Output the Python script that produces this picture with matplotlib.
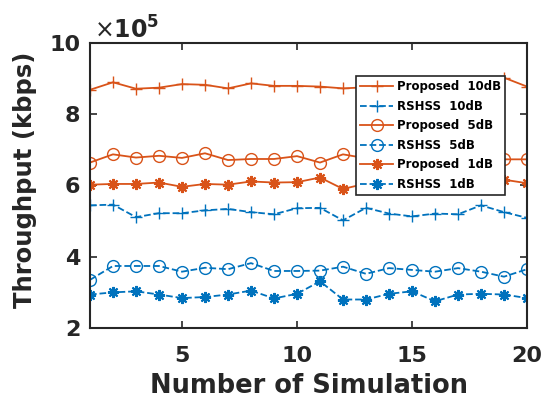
import numpy as np
import matplotlib.pyplot as plt

plt.rcParams['font.family'] = ['DejaVu Sans']
plt.rcParams['mathtext.fontset'] = 'dejavusans'

# throughput in units of 1e5 kbps, one value per simulation run
sim = np.arange(1, 21)
proposed_10db = [8.68, 8.89, 8.71, 8.74, 8.84, 8.82, 8.72, 8.86, 8.79, 8.79,
                 8.77, 8.72, 8.75, 8.80, 8.78, 8.82, 8.76, 8.80, 9.02, 8.77]
rshss_10db = [5.44, 5.46, 5.11, 5.22, 5.22, 5.30, 5.34, 5.25, 5.19, 5.36,
              5.37, 5.02, 5.37, 5.21, 5.13, 5.21, 5.19, 5.44, 5.25, 5.09]
proposed_5db = [6.64, 6.87, 6.78, 6.83, 6.77, 6.90, 6.71, 6.74, 6.74, 6.82,
                6.64, 6.87, 6.76, 6.80, 6.74, 6.82, 6.78, 6.80, 6.73, 6.73]
rshss_5db = [3.35, 3.74, 3.74, 3.74, 3.58, 3.69, 3.65, 3.82, 3.60, 3.60,
             3.61, 3.72, 3.52, 3.68, 3.63, 3.58, 3.68, 3.58, 3.44, 3.65]
proposed_1db = [6.02, 6.04, 6.04, 6.08, 5.96, 6.04, 6.02, 6.11, 6.08, 6.09,
                6.22, 5.90, 6.05, 6.10, 6.02, 6.08, 6.12, 6.06, 6.16, 6.06]
rshss_1db = [2.94, 3.00, 3.03, 2.94, 2.84, 2.87, 2.94, 3.05, 2.83, 2.96,
             3.31, 2.80, 2.80, 2.96, 3.03, 2.75, 2.94, 2.96, 2.94, 2.84]

orange = '#D95319'
blue = '#0072BD'
ink = '#262626'
asterisk = (8, 2, 0)

series = [
    ('Proposed  10dB', proposed_10db, orange, '-', '+'),
    ('RSHSS  10dB', rshss_10db, blue, '--', '+'),
    ('Proposed  5dB', proposed_5db, orange, '-', 'o'),
    ('RSHSS  5dB', rshss_5db, blue, '--', 'o'),
    ('Proposed  1dB', proposed_1db, orange, '-', asterisk),
    ('RSHSS  1dB', rshss_1db, blue, '--', asterisk),
]

fig = plt.figure(figsize=(5.44, 4.03), dpi=100)
ax = fig.add_axes([0.1654, 0.186, 0.8034, 0.708])

for label, vals, color, ls, mk in series:
    ms = {'+': 9, 'o': 8.5}.get(mk, 8)
    mew = 1.5 if mk == asterisk else 1.0
    ax.plot(sim, vals, color=color, linestyle=ls, linewidth=1.3,
            marker=mk, markersize=ms, markerfacecolor='none',
            markeredgecolor=color, markeredgewidth=mew, label=label)

ax.set_xlim(1, 20)
ax.set_ylim(2, 10)
ax.set_xticks([5, 10, 15, 20])
ax.set_yticks([2, 4, 6, 8, 10])
ax.tick_params(direction='in', length=5, width=1.2, top=True, right=True,
               labelsize=16, colors=ink)
ax.tick_params(axis='x', pad=13)
ax.tick_params(axis='y', pad=7)
for lbl in ax.get_xticklabels() + ax.get_yticklabels():
    lbl.set_fontweight('bold')
for sp in ax.spines.values():
    sp.set_linewidth(1.5)
    sp.set_color(ink)

ax.set_xlabel('Number of Simulation', fontsize=18.5, fontweight='bold',
              color=ink)
ax.xaxis.set_label_coords(0.5, -0.158)
ax.set_ylabel('Throughput (kbps)', fontsize=17.5, fontweight='bold',
              color=ink)
ax.yaxis.set_label_coords(-0.122, 0.52)
ax.text(0.01, 0.998, r'$\times\mathbf{10^5}$', transform=ax.transAxes,
        fontsize=17, color=ink, ha='left', va='bottom')

leg = ax.legend(loc='upper right', bbox_to_anchor=(0.95, 0.883),
                borderaxespad=0,
                prop={'weight': 'bold', 'size': 8.5}, handlelength=2.8,
                handletextpad=0.3, borderpad=0.35, labelspacing=0.55,
                fancybox=False, framealpha=1, edgecolor=ink)
leg.get_frame().set_linewidth(1.2)

fig.savefig('out.png', dpi=100)
